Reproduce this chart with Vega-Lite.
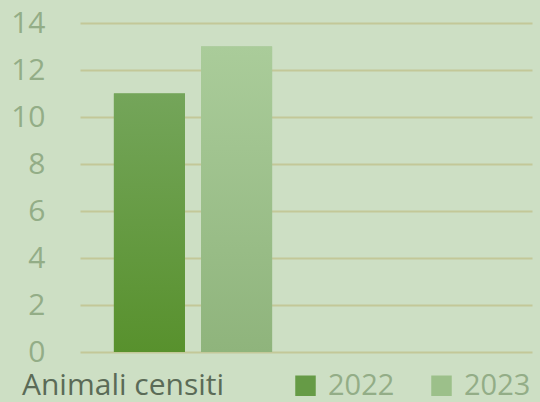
{
  "$schema": "https://vega.github.io/schema/vega-lite/v6.json",
  "autosize": "none",
  "width": 452,
  "height": 329,
  "padding": {"left": 80, "top": 23, "right": 8, "bottom": 50},
  "background": "#cddfc4",
  "config": {"view": {"stroke": null}, "font": "Open Sans"},
  "data": {"values": [
    {"gruppo": "Animali censiti", "anno": "2022", "valore": 11},
    {"gruppo": "Animali censiti", "anno": "2023", "valore": 13}
  ]},
  "encoding": {
    "x": {"field": "gruppo", "type": "nominal", "axis": null,
      "scale": {"domain": ["Animali censiti", "vuoto"], "paddingInner": 0.3, "paddingOuter": 0.15}},
    "xOffset": {"field": "anno", "type": "nominal",
      "scale": {"paddingInner": 0.184, "paddingOuter": 0}},
    "y": {"field": "valore", "type": "quantitative",
      "scale": {"domain": [0, 14]},
      "axis": {"title": null, "values": [0,2,4,6,8,10,12,14], "domain": false, "ticks": false,
        "labelPadding": 35, "labelFontSize": 30, "labelColor": "#93ad87",
        "gridColor": "#c3c898", "gridWidth": 2}}
  },
  "layer": [
    {
      "mark": {"type": "bar"},
      "encoding": {
        "color": {"field": "anno", "type": "nominal",
          "scale": {"domain": ["2022", "2023"], "range": ["#669b46", "#9cc08a"]},
          "legend": {"title": "Animali censiti", "orient": "none", "direction": "horizontal",
            "legendX": -58, "legendY": 348, "titleOrient": "left", "titleFontSize": 30,
            "titleLimit": 400,
            "titleFontWeight": "normal", "titleColor": "#5b6b57", "titlePadding": 66,
            "titleBaseline": "middle", "titleAnchor": "middle",
            "symbolType": "square", "symbolSize": 420, "symbolStrokeWidth": 0, "symbolOpacity": 1,
            "labelFontSize": 29, "labelColor": "#93ad87", "labelOffset": 8, "columnPadding": 32}
        }
      }
    },
    {
      "mark": {"type": "bar"},
      "encoding": {
        "fill": {
          "condition": {"test": "datum.anno === '2022'", "value": {"gradient": "linear", "x1": 0, "y1": 0, "x2": 0, "y2": 1, "stops": [{"offset": 0, "color": "#74a55a"}, {"offset": 1, "color": "#58912d"}]}},
          "value": {"gradient": "linear", "x1": 0, "y1": 0, "x2": 0, "y2": 1, "stops": [{"offset": 0, "color": "#aacc9a"}, {"offset": 1, "color": "#8fb47c"}]}
        }
      }
    }
  ]
}
